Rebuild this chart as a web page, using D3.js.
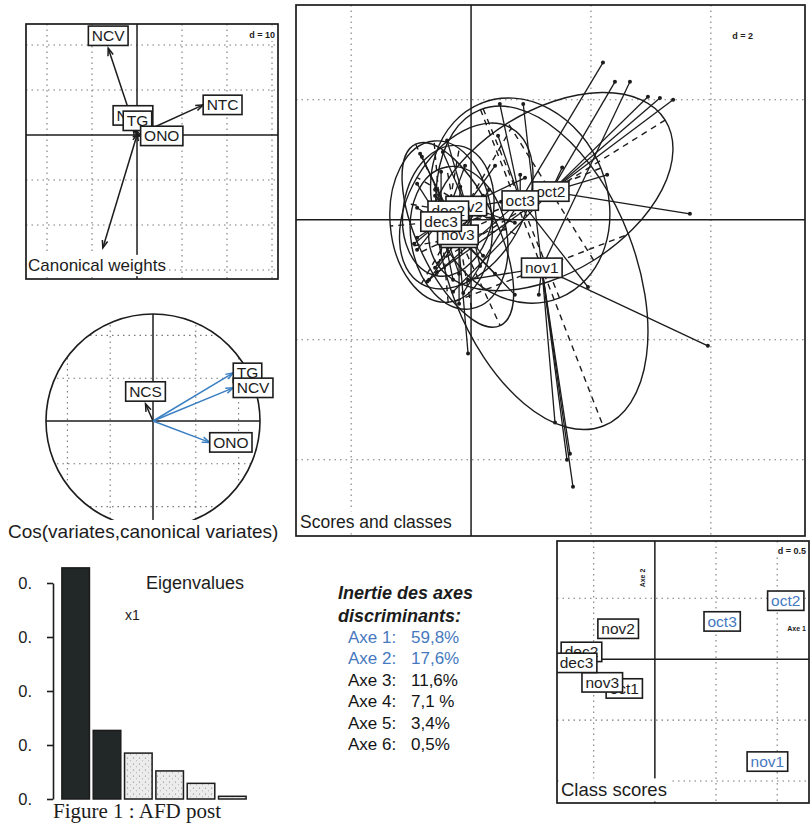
<!DOCTYPE html>
<html>
<head>
<meta charset="utf-8">
<script src="https://cdn.jsdelivr.net/npm/d3@7"></script>
<style>
    body { margin: 0; background: #fff; }
    svg { display: block; font-family: "Liberation Sans", Arial, sans-serif; }
</style>
</head>
<body>
<div id="chart"></div>
<script>
// ---------- data ----------
// canonical weights (d = 10)
const cwNames = ["NCV", "NTC", "NCS", "TG", "ONO", ""];
const cwX = [-6.4, 14.7, -0.9, 0.1, 0.8, -7.6];
const cwY = [19.3, 6.7, 1.6, 0.4, -0.2, -25.1];

// cos(variates, canonical variates)
const cosNames = ["NCS", "TG", "NCV", "ONO"];
const cosX = [-0.07, 0.75, 0.75, 0.53];
const cosY = [0.16, 0.45, 0.31, -0.20];

// classes, centroids in the scores plane (d = 2)
const classes = ["oct1", "oct2", "oct3", "nov1", "nov2", "nov3", "dec2", "dec3"];
const centX = [-0.20, 1.33, 0.82, 1.18, -0.08, -0.22, -0.38, -0.50];
const centY = [-0.30, 0.47, 0.32, -0.80, 0.23, -0.25, 0.15, -0.03];
const ellA = [1.20, 2.25, 1.75, 2.83, 1.50, 1.67, 1.10, 1.35];
const ellB = [0.80, 1.35, 1.45, 1.55, 0.95, 0.67, 0.75, 0.85];
const ellAngle = [100, 32, 112, -68.8, 60, -65, 80, 95];

// individual scores
const indClass = [
    "oct1", "oct1", "oct1", "oct1", "oct1",
    "oct2", "oct2", "oct2", "oct2", "oct2", "oct2", "oct2", "oct2",
    "oct3", "oct3", "oct3", "oct3", "oct3", "oct3", "oct3", "oct3",
    "nov1", "nov1", "nov1", "nov1", "nov1", "nov1", "nov1", "nov1", "nov1",
    "nov2", "nov2", "nov2", "nov2", "nov2", "nov2", "nov2",
    "nov3", "nov3", "nov3", "nov3", "nov3", "nov3", "nov3",
    "dec2", "dec2", "dec2", "dec2", "dec2", "dec2",
    "dec3", "dec3", "dec3", "dec3", "dec3", "dec3"
];
const indX = [
    -0.60, 0.40, -0.70, 0.30, -0.20,
    3.37, 3.15, 2.95, 3.65, 2.40, -0.57, 1.52, -0.30,
    2.20, 0.48, 2.27, 1.95, -0.73, 0.45, -0.13, 0.82,
    2.65, 0.87, 3.95, 1.60, 1.70, 1.40, 1.13, 1.65, -0.05,
    -0.47, 0.90, -0.40, 0.15, 0.73, -0.90, 0.40,
    -0.05, -0.18, -0.82, 0.73, -0.60, 0.20, -0.90,
    -0.85, -0.10, -0.90, 0.20, -0.60, 0.50,
    -0.90, -0.20, -0.95, 0.10, -0.50, -0.30
];
const indY = [
    0.50, -0.90, -1.00, 0.50, -1.40,
    2.00, 2.03, 2.05, 0.10, 2.30, -0.88, 0.87, -1.20,
    2.62, 1.93, 0.75, -1.12, -1.03, 1.40, -1.22, 0.75,
    2.30, 1.93, -2.10, -4.00, -4.45, -3.38, -1.25, -3.90, -1.00,
    1.13, 0.70, 1.32, -0.77, -0.05, -0.30, 0.90,
    -2.23, 0.55, 1.05, -1.25, -0.80, 0.40, 0.20,
    1.10, 0.90, -0.50, -0.60, 0.40, 0.30,
    0.60, -0.90, -0.40, 0.30, 0.80, -1.00
];

// class scores (d = 0.5)
const csX = [-0.25, 1.07, 0.55, 0.92, -0.30, -0.43, -0.60, -0.64];
const csY = [-0.24, 0.48, 0.31, -0.84, 0.25, -0.19, 0.06, -0.03];

// eigenvalues
const eigAxes = [1, 2, 3, 4, 5, 6];
const eigValues = [0.428, 0.127, 0.085, 0.052, 0.029, 0.005];
const eigTicks = [0, 0.1, 0.2, 0.3, 0.4];
const eigTickLabels = ["0.", "0.", "0.", "0.", "0."];

// inertia table
const axeLabels = ["Axe 1:", "Axe 2:", "Axe 3:", "Axe 4:", "Axe 5:", "Axe 6:"];
const inertiaLabels = ["59,8%", "17,6%", "11,6%", "7,1 %", "3,4%", "0,5%"];

// ---------- styles ----------
const ink = "#1c1c1c";
const blue = "#3a7fc1";
const textBlue = "#4679c0";
const cosHighlight = ["TG", "NCV", "ONO"];
const classHighlight = ["oct2", "oct3", "nov1"];
const keptAxes = 2;

const svg = d3.select("#chart").append("svg")
    .attr("width", 811)
    .attr("height", 832);
const defs = svg.append("defs");

// stipple for the non-kept eigenvalues
const pat = defs.append("pattern")
    .attr("id", "stipple")
    .attr("width", 6).attr("height", 6)
    .attr("patternUnits", "userSpaceOnUse");
pat.append("rect").attr("width", 6).attr("height", 6).attr("fill", "#ececec");
pat.append("circle").attr("cx", 1.5).attr("cy", 2).attr("r", 0.6).attr("fill", "#777");
pat.append("circle").attr("cx", 4.5).attr("cy", 4.8).attr("r", 0.5).attr("fill", "#999");

// ---------- helpers ----------
function measure(text, size) {
    const t = svg.append("text").attr("font-size", size).text(text);
    const w = t.node().getComputedTextLength();
    t.remove();
    return w;
}

function clip(id, x0, y0, w, h) {
    defs.append("clipPath").attr("id", id)
        .append("rect").attr("x", x0).attr("y", y0).attr("width", w).attr("height", h);
}

function frame(g, x0, y0, w, h) {
    g.append("rect")
        .attr("x", x0).attr("y", y0)
        .attr("width", w).attr("height", h)
        .attr("fill", "none")
        .attr("stroke", ink)
        .attr("stroke-width", 1.7);
}

function grid(g, x, y, step) {
    const [xa, xb] = d3.extent(x.domain());
    const [ya, yb] = d3.extent(y.domain());
    const xs = [], ys = [];
    for (let k = Math.ceil(xa / step); k * step <= xb; k++) if (k !== 0) xs.push(k * step);
    for (let k = Math.ceil(ya / step); k * step <= yb; k++) if (k !== 0) ys.push(k * step);
    g.selectAll(null).data(xs).enter().append("line")
        .attr("x1", d => x(d)).attr("x2", d => x(d))
        .attr("y1", y.range()[0]).attr("y2", y.range()[1])
        .attr("stroke", "#7a7a7a").attr("stroke-width", 1.1)
        .attr("stroke-dasharray", "1.5,4");
    g.selectAll(null).data(ys).enter().append("line")
        .attr("y1", d => y(d)).attr("y2", d => y(d))
        .attr("x1", x.range()[0]).attr("x2", x.range()[1])
        .attr("stroke", "#7a7a7a").attr("stroke-width", 1.1)
        .attr("stroke-dasharray", "1.5,4");
}

function axesCross(g, x, y) {
    g.append("line")
        .attr("x1", x(0)).attr("x2", x(0))
        .attr("y1", y.range()[0]).attr("y2", y.range()[1])
        .attr("stroke", ink).attr("stroke-width", 1.5);
    g.append("line")
        .attr("y1", y(0)).attr("y2", y(0))
        .attr("x1", x.range()[0]).attr("x2", x.range()[1])
        .attr("stroke", ink).attr("stroke-width", 1.5);
}

function boxLabel(g, px, py, text, size, color) {
    const lg = g.append("g");
    const t = lg.append("text")
        .attr("x", px).attr("y", py)
        .attr("text-anchor", "middle")
        .attr("dy", "0.36em")
        .attr("font-size", size)
        .attr("fill", color || ink)
        .text(text);
    const w = t.node().getComputedTextLength() + size * 0.45;
    const h = size * 1.25;
    lg.insert("rect", "text")
        .attr("x", px - w / 2).attr("y", py - h / 2)
        .attr("width", w).attr("height", h)
        .attr("fill", "#fff")
        .attr("stroke", ink)
        .attr("stroke-width", 1.6);
}

// label just outside the arrow tip (same rule as ade4's eti.circ)
function tipLabel(g, vx, vy, px, py, text, size) {
    if (!text) return;
    const w = measure(text, size) + size * 0.45;
    const hh = size * 0.8;
    let cx = px, cy = py;
    if (vx > vy && vx > -vy) cx = px + w / 2;
    else if (vx > vy && vx <= -vy) cy = py + hh;
    else if (vx <= vy && vx <= -vy) cx = px - w / 2;
    else cy = py - hh;
    boxLabel(g, cx, cy, text, size);
}

function arrow(g, x1, y1, x2, y2, color) {
    g.append("line")
        .attr("x1", x1).attr("y1", y1).attr("x2", x2).attr("y2", y2)
        .attr("stroke", color).attr("stroke-width", 1.5);
    const a = Math.atan2(y2 - y1, x2 - x1), len = 8, sp = Math.PI / 9;
    g.append("path")
        .attr("d", `M${x2 - len * Math.cos(a - sp)},${y2 - len * Math.sin(a - sp)}L${x2},${y2}L${x2 - len * Math.cos(a + sp)},${y2 - len * Math.sin(a + sp)}`)
        .attr("fill", "none").attr("stroke", color).attr("stroke-width", 1.5);
}

function title(g, x0, yb, text, size) {
    const w = measure(text, size);
    g.append("rect")
        .attr("x", x0 - 2).attr("y", yb - size * 0.95)
        .attr("width", w + 5).attr("height", size * 1.25)
        .attr("fill", "#fff");
    g.append("text")
        .attr("x", x0).attr("y", yb)
        .attr("font-size", size)
        .attr("fill", ink)
        .text(text);
}

function dLabel(g, xr, yb, text) {
    const w = measure(text, 9);
    g.append("rect").attr("x", xr - w - 2).attr("y", yb - 9).attr("width", w + 4).attr("height", 12).attr("fill", "#fff");
    g.append("text").attr("x", xr).attr("y", yb)
        .attr("text-anchor", "end").attr("font-size", 9).attr("font-weight", "bold")
        .attr("fill", ink).text(text);
}

// ---------- Canonical weights ----------
{
    const x = d3.scaleLinear().domain([-24.67, 31.33]).range([26, 278]);
    const y = d3.scaleLinear().domain([24.67, -32]).range([24, 279]);
    clip("clipCw", 26, 24, 252, 255);
    const g = svg.append("g");
    const inner = g.append("g").attr("clip-path", "url(#clipCw)");
    grid(inner, x, y, 10);
    axesCross(inner, x, y);
    cwNames.forEach((n, i) => arrow(inner, x(0), y(0), x(cwX[i]), y(cwY[i]), ink));
    cwNames.forEach((n, i) => tipLabel(inner, cwX[i], cwY[i], x(cwX[i]), y(cwY[i]), n, 15.5));
    dLabel(inner, 275, 38, "d = 10");
    title(inner, 28, 271, "Canonical weights", 17);
    frame(g, 26, 24, 252, 255);
}

// ---------- Correlation circle ----------
{
    const x = d3.scaleLinear().domain([-1, 1]).range([46, 260]);
    const y = d3.scaleLinear().domain([1, -1]).range([314, 528]);
    defs.append("clipPath").attr("id", "clipCos")
        .append("circle").attr("cx", x(0)).attr("cy", y(0)).attr("r", x(1) - x(0));
    const g = svg.append("g");
    const inner = g.append("g").attr("clip-path", "url(#clipCos)");
    grid(inner, x, y, 0.4);
    axesCross(inner, x, y);
    g.append("circle")
        .attr("cx", x(0)).attr("cy", y(0)).attr("r", x(1) - x(0))
        .attr("fill", "none").attr("stroke", ink).attr("stroke-width", 1.6);
    cosNames.forEach((n, i) => arrow(g, x(0), y(0), x(cosX[i]), y(cosY[i]),
        cosHighlight.includes(n) ? blue : ink));
    cosNames.forEach((n, i) => tipLabel(g, cosX[i], cosY[i], x(cosX[i]), y(cosY[i]), n, 15.5));
    title(g, 8, 538, "Cos(variates,canonical variates)", 19);
}

// ---------- Scores and classes ----------
{
    const x = d3.scaleLinear().domain([-2.92, 5.57]).range([296, 805]);
    const y = d3.scaleLinear().domain([3.58, -5.27]).range([5, 536]);
    const k = x(1) - x(0);
    clip("clipSc", 296, 5, 509, 531);
    const g = svg.append("g");
    const inner = g.append("g").attr("clip-path", "url(#clipSc)");
    grid(inner, x, y, 2);
    axesCross(inner, x, y);

    const idx = c => classes.indexOf(c);
    // stars
    inner.selectAll(null).data(indClass).enter().append("line")
        .attr("x1", (c, i) => x(indX[i])).attr("y1", (c, i) => y(indY[i]))
        .attr("x2", c => x(centX[idx(c)])).attr("y2", c => y(centY[idx(c)]))
        .attr("stroke", ink).attr("stroke-width", 1.3);
    // ellipses
    inner.selectAll(null).data(classes).enter().append("ellipse")
        .attr("transform", (c, i) => `translate(${x(centX[i])},${y(centY[i])}) rotate(${-ellAngle[i]})`)
        .attr("rx", (c, i) => ellA[i] * k)
        .attr("ry", (c, i) => ellB[i] * k)
        .attr("fill", "none").attr("stroke", ink).attr("stroke-width", 1.4);
    // ellipse axes
    classes.forEach((c, i) => {
        const t = ellAngle[i] * Math.PI / 180;
        [[ellA[i], t], [ellB[i], t + Math.PI / 2]].forEach(([r, a]) => {
            inner.append("line")
                .attr("x1", x(centX[i] - r * Math.cos(a))).attr("y1", y(centY[i] - r * Math.sin(a)))
                .attr("x2", x(centX[i] + r * Math.cos(a))).attr("y2", y(centY[i] + r * Math.sin(a)))
                .attr("stroke", ink).attr("stroke-width", 1.4)
                .attr("stroke-dasharray", "6,5");
        });
    });
    // points
    inner.selectAll(null).data(indClass).enter().append("circle")
        .attr("cx", (c, i) => x(indX[i])).attr("cy", (c, i) => y(indY[i]))
        .attr("r", 2).attr("fill", ink);
    classes.forEach((c, i) => boxLabel(inner, x(centX[i]), y(centY[i]), c, 15.5));
    dLabel(inner, 753, 39, "d = 2");
    title(inner, 300, 528, "Scores and classes", 17.5);
    frame(g, 296, 5, 509, 531);
}

// ---------- Eigenvalues ----------
{
    const x = d3.scaleBand().domain(eigAxes).range([60, 248]).paddingInner(0.12).paddingOuter(0.06);
    const y = d3.scaleLinear().domain([0, 0.4]).range([799, 583]);
    const g = svg.append("g");
    g.selectAll(null).data(eigValues).enter().append("rect")
        .attr("x", (d, i) => x(eigAxes[i]))
        .attr("y", d => y(d))
        .attr("width", x.bandwidth())
        .attr("height", d => y(0) - y(d))
        .attr("fill", (d, i) => i < keptAxes ? "#222727" : "url(#stipple)")
        .attr("stroke", ink).attr("stroke-width", 1.5);
    const ax = g.append("g")
        .attr("transform", "translate(53,0)")
        .call(d3.axisLeft(y).tickValues(eigTicks)
            .tickFormat((d, i) => eigTickLabels[i])
            .tickSize(6).tickSizeOuter(0).tickPadding(15));
    ax.select(".domain").attr("stroke", ink).attr("stroke-width", 1.6);
    ax.selectAll(".tick line").attr("stroke", ink).attr("stroke-width", 1.6);
    ax.selectAll(".tick text")
        .attr("font-size", 16.5)
        .attr("font-family", "Liberation Sans, Arial, sans-serif")
        .attr("fill", ink);
    g.append("text").attr("x", 146).attr("y", 589).attr("font-size", 18).attr("fill", ink).text("Eigenvalues");
    g.append("text").attr("x", 125).attr("y", 620).attr("font-size", 14).attr("fill", ink).text("x1");
    g.append("text").attr("x", 53).attr("y", 818)
        .attr("font-family", "Liberation Serif, Times New Roman, serif")
        .attr("font-size", 21).attr("fill", ink).text("Figure 1 : AFD post");
}

// ---------- Inertia table ----------
{
    const g = svg.append("g");
    ["Inertie des axes", "discriminants:"].forEach((t, i) => {
        g.append("text")
            .attr("x", 338).attr("y", 599 + i * 23)
            .attr("font-size", 18).attr("font-weight", "bold").attr("font-style", "italic")
            .attr("fill", ink).text(t);
    });
    axeLabels.forEach((a, i) => {
        const col = i < keptAxes ? textBlue : "#141414";
        const yb = 643 + i * 21.4;
        g.append("text").attr("x", 348).attr("y", yb).attr("font-size", 17).attr("fill", col).text(a);
        g.append("text").attr("x", 411).attr("y", yb).attr("font-size", 17).attr("fill", col).text(inertiaLabels[i]);
    });
}

// ---------- Class scores ----------
{
    const x = d3.scaleLinear().domain([-0.80, 1.26]).range([557, 809]);
    const y = d3.scaleLinear().domain([0.97, -1.18]).range([541, 803]);
    clip("clipCs", 557, 541, 252, 262);
    const g = svg.append("g");
    const inner = g.append("g").attr("clip-path", "url(#clipCs)");
    grid(inner, x, y, 0.5);
    axesCross(inner, x, y);
    inner.append("text")
        .attr("transform", `translate(${x(0) - 10},578) rotate(-90)`)
        .attr("text-anchor", "middle").attr("font-size", 7).attr("font-weight", "bold")
        .attr("fill", ink).text("Axe 2");
    inner.append("text")
        .attr("x", 806).attr("y", y(0) - 28)
        .attr("text-anchor", "end").attr("font-size", 7).attr("font-weight", "bold")
        .attr("fill", ink).text("Axe 1");
    classes.forEach((c, i) => boxLabel(inner, x(csX[i]), y(csY[i]), c, 15.5,
        classHighlight.includes(c) ? textBlue : ink));
    dLabel(inner, 806, 554, "d = 0.5");
    title(inner, 561, 796, "Class scores", 18.5);
    frame(g, 557, 541, 252, 262);
}
</script>
</body>
</html>
